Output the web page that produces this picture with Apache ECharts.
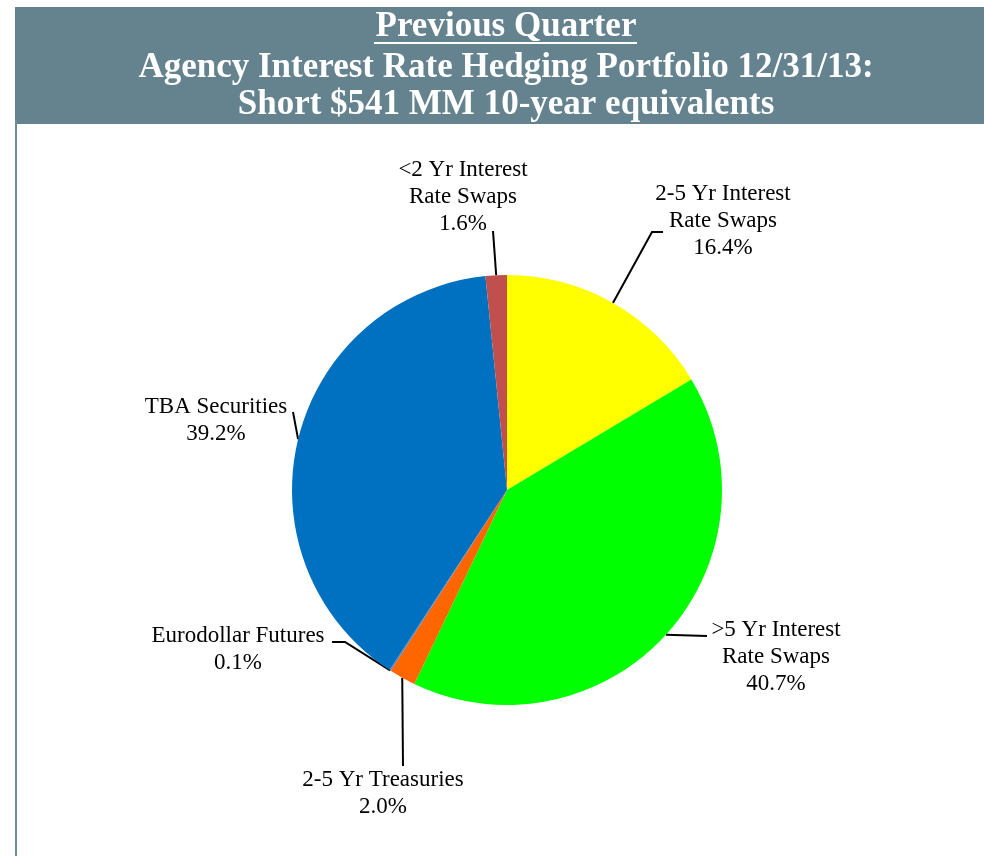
<!DOCTYPE html>
<html>
<head>
<meta charset="utf-8">
<script src="https://cdn.jsdelivr.net/npm/echarts@6/dist/echarts.min.js"></script>
<style>
  html, body { margin: 0; padding: 0; background: #fff; }
  #chart { width: 984px; height: 856px; }
</style>
</head>
<body>
<div id="chart"></div>
<script>
var myChart = echarts.init(document.getElementById('chart'));

// slices, clockwise from 12 o'clock
var categories = [
    '2-5 Yr Interest\nRate Swaps',
    '>5 Yr Interest\nRate Swaps',
    '2-5 Yr Treasuries',
    'Eurodollar Futures',
    'TBA Securities',
    '<2 Yr Interest\nRate Swaps'
];
var shares = [16.4, 40.7, 2.0, 0.1, 39.2, 1.6];
var colors = ['#FFFF00', '#00FF00', '#FF6600', '#4F81BD', '#0070C0', '#C0504D'];

var titleLines = [
    'Previous Quarter',
    'Agency Interest Rate Hedging Portfolio 12/31/13:',
    'Short $541 MM 10-year equivalents'
];

// pie geometry (px)
var CX = 507, CY = 490, R = 215;

// where each label sits and how its leader line bends (px)
var labelSpots = [
    {pos: [723, 221], line: [[652, 232], [663, 232]]},
    {pos: [776, 657], line: [[707, 636]]},
    {pos: [383, 793], line: [[403, 766]]},
    {pos: [238, 649], line: [[345, 642], [332, 642]]},
    {pos: [216, 420], line: [[293, 412]]},
    {pos: [463, 197], line: [[493, 231]]}
];

var total = shares.reduce(function (a, b) { return a + b; }, 0);

// point on the rim at the middle of slice i
var midPoint = function (i) {
    var before = 0;
    for (var k = 0; k < i; k++) before += shares[k];
    var ang = (before + shares[i] / 2) / total * 2 * Math.PI;
    return [CX + R * Math.sin(ang), CY - R * Math.cos(ang)];
};

var data = categories.map(function (name, i) {
    return {name: name, value: shares[i], itemStyle: {color: colors[i]}};
});

var serif = 'Liberation Serif, Times New Roman, serif';

option = {
    backgroundColor: '#ffffff',
    animation: false,
    graphic: [
        {
            type: 'rect',
            shape: {x: 15, y: 7, width: 969, height: 117},
            style: {fill: '#65838F'},
            silent: true
        },
        {
            type: 'line',
            shape: {x1: 16, y1: 120, x2: 16, y2: 856},
            style: {stroke: '#6E8B99', lineWidth: 2},
            silent: true
        },
        {
            type: 'text',
            x: 506, y: 27,
            style: {
                text: titleLines[0], fill: '#fff', font: 'bold 35px ' + serif,
                textAlign: 'center', textVerticalAlign: 'middle'
            }
        },
        {
            type: 'line',
            shape: {x1: 374, y1: 43, x2: 637, y2: 43},
            style: {stroke: '#fff', lineWidth: 2},
            silent: true
        },
        {
            type: 'text',
            x: 506, y: 68,
            style: {
                text: titleLines[1], fill: '#fff', font: 'bold 35px ' + serif,
                textAlign: 'center', textVerticalAlign: 'middle'
            }
        },
        {
            type: 'text',
            x: 506, y: 105,
            style: {
                text: titleLines[2], fill: '#fff', font: 'bold 35px ' + serif,
                textAlign: 'center', textVerticalAlign: 'middle'
            }
        }
    ],
    series: [
        {
            name: 'hedges',
            type: 'pie',
            center: [CX, CY],
            radius: R,
            startAngle: 90,
            clockwise: true,
            avoidLabelOverlap: false,
            data: data,
            itemStyle: {borderWidth: 0},
            emphasis: {disabled: true},
            label: {
                show: true,
                position: 'outside',
                color: '#000',
                fontFamily: serif,
                fontSize: 23,
                lineHeight: 27,
                align: 'center',
                formatter: function (p) {
                    return p.name + '\n' + p.value.toFixed(1) + '%';
                }
            },
            labelLine: {
                show: true,
                length: 20,
                length2: 10,
                lineStyle: {color: '#000', width: 2}
            },
            labelLayout: function (params) {
                var spot = labelSpots[params.dataIndex];
                return {
                    x: spot.pos[0],
                    y: spot.pos[1],
                    align: 'center',
                    verticalAlign: 'middle',
                    labelLinePoints: [midPoint(params.dataIndex)].concat(spot.line)
                };
            }
        }
    ]
};

myChart.setOption(option);
</script>
</body>
</html>
